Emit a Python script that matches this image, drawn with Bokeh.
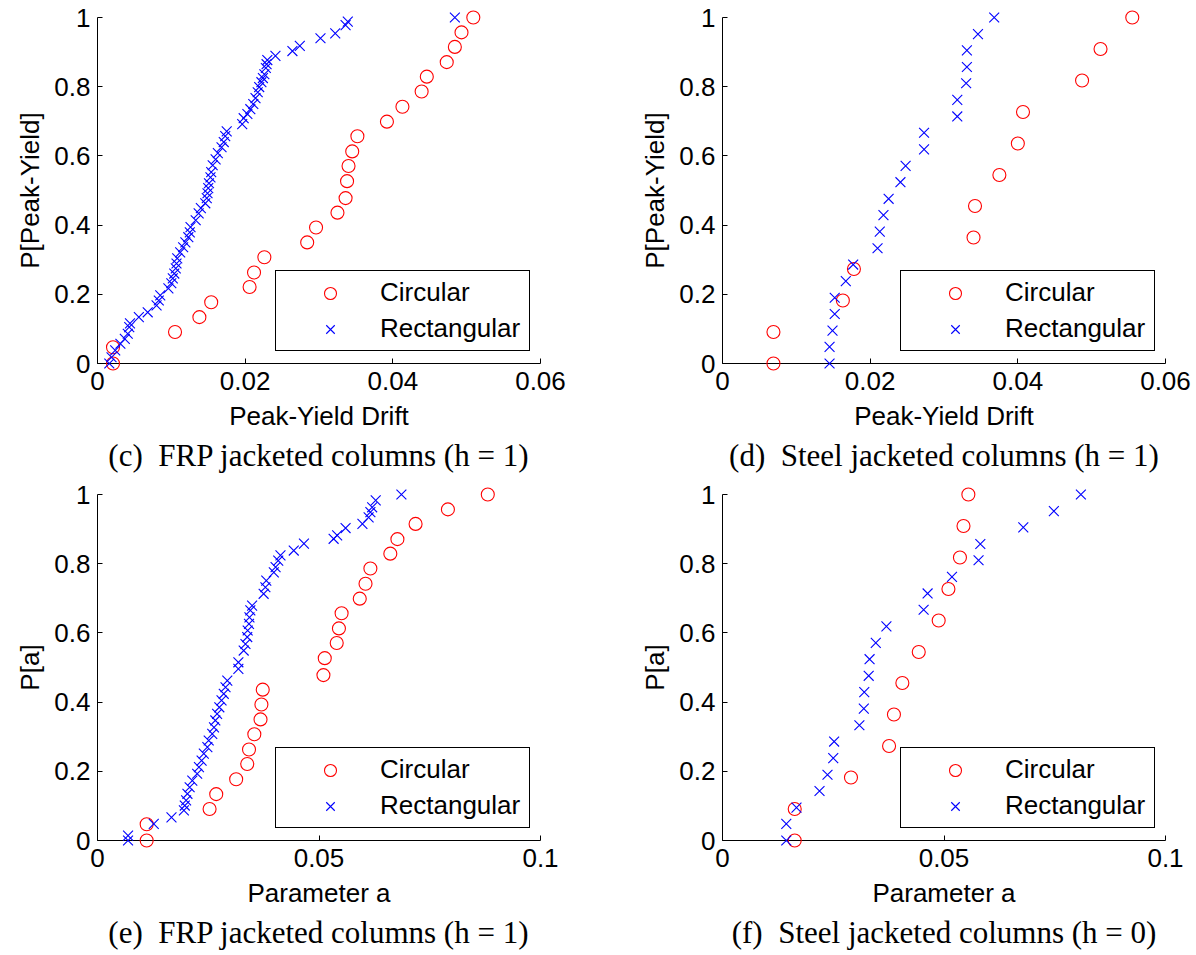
from bokeh.plotting import figure
from bokeh.layouts import column, row
from bokeh.models import (Legend, LegendItem, FixedTicker, CustomJSTickFormatter,
                          Title, Range1d)
from bokeh.embed import file_html
from bokeh.resources import INLINE

# ---------------- data ----------------
# (c) FRP jacketed columns, Peak-Yield Drift
c_circ_x = [0.0021, 0.0021, 0.0105, 0.0138, 0.0154, 0.0206, 0.0212, 0.0226, 0.0284, 0.0296,
            0.0325, 0.0336, 0.0338, 0.0340, 0.0345, 0.0352, 0.0392, 0.0413, 0.0439, 0.0446,
            0.0473, 0.0484, 0.0493, 0.0509]
c_circ_y = [0.0, 0.047, 0.091, 0.134, 0.177, 0.221, 0.263, 0.307, 0.350, 0.393,
            0.436, 0.478, 0.527, 0.571, 0.613, 0.657, 0.699, 0.742, 0.786, 0.829,
            0.871, 0.915, 0.957, 1.0]
c_rect_x = [0.0016, 0.0019, 0.0024, 0.0031, 0.0037, 0.0041, 0.0043, 0.0044, 0.0056, 0.0068,
            0.0080, 0.0083, 0.0085, 0.0096, 0.0100, 0.0102, 0.0104, 0.0106, 0.0107, 0.0108,
            0.0112, 0.0116, 0.0119, 0.0123, 0.0125, 0.0126, 0.0133, 0.0137, 0.0140, 0.0146,
            0.0148, 0.0149, 0.0150, 0.0151, 0.0153, 0.0154, 0.0156, 0.0160, 0.0163, 0.0168,
            0.0171, 0.0173, 0.0175, 0.0196, 0.0198, 0.0203, 0.0207, 0.0211, 0.0214, 0.0217,
            0.0219, 0.0222, 0.0224, 0.0226, 0.0228, 0.0229, 0.0230, 0.0241, 0.0264, 0.0274,
            0.0302, 0.0322, 0.0336, 0.0339, 0.0484]
c_rect_y = [0.0, 0.018, 0.038, 0.057, 0.071, 0.086, 0.105, 0.116, 0.134, 0.148,
            0.168, 0.182, 0.197, 0.217, 0.232, 0.246, 0.260, 0.275, 0.289, 0.304,
            0.321, 0.336, 0.350, 0.365, 0.379, 0.394, 0.414, 0.434, 0.449, 0.463,
            0.478, 0.492, 0.507, 0.521, 0.538, 0.553, 0.573, 0.590, 0.608, 0.625,
            0.640, 0.657, 0.671, 0.692, 0.709, 0.721, 0.735, 0.750, 0.767, 0.784,
            0.799, 0.813, 0.825, 0.836, 0.854, 0.865, 0.877, 0.889, 0.903, 0.918,
            0.940, 0.954, 0.978, 0.988, 1.0]

# (d) Steel jacketed columns, Peak-Yield Drift
d_circ_x = [0.0069, 0.0069, 0.0163, 0.0178, 0.0340, 0.0342, 0.0375, 0.0400, 0.0407, 0.0487,
            0.0512, 0.0555]
d_circ_y = [0.0, 0.091, 0.182, 0.273, 0.364, 0.455, 0.545, 0.636, 0.727, 0.818, 0.909, 1.0]
d_rect_x = [0.0145, 0.0145, 0.0149, 0.0152, 0.0152, 0.0167, 0.0177, 0.0210, 0.0213, 0.0218,
            0.0225, 0.0241, 0.0248, 0.0273, 0.0273, 0.0318, 0.0318, 0.0330, 0.0331, 0.0331,
            0.0346, 0.0368]
d_rect_y = [0.0, 0.048, 0.095, 0.143, 0.190, 0.238, 0.286, 0.333, 0.381, 0.429,
            0.476, 0.524, 0.571, 0.619, 0.667, 0.714, 0.762, 0.810, 0.857, 0.905,
            0.952, 1.0]

# (e) FRP jacketed columns, Parameter a
e_circ_x = [0.0111, 0.0111, 0.0253, 0.0268, 0.0313, 0.0338, 0.0342, 0.0354, 0.0368, 0.0370,
            0.0373, 0.0510, 0.0513, 0.0540, 0.0545, 0.0551, 0.0592, 0.0605, 0.0616, 0.0661,
            0.0677, 0.0718, 0.0791, 0.0881]
e_circ_y = c_circ_y
e_rect_x = [0.0069, 0.0069, 0.0127, 0.0167, 0.0195, 0.0197, 0.0200, 0.0203, 0.0208, 0.0214,
            0.0225, 0.0229, 0.0235, 0.0240, 0.0248, 0.0251, 0.0259, 0.0263, 0.0266, 0.0270,
            0.0275, 0.0280, 0.0285, 0.0289, 0.0293, 0.0318, 0.0318, 0.0330, 0.0334, 0.0338,
            0.0339, 0.0342, 0.0343, 0.0345, 0.0349, 0.0375, 0.0379, 0.0381, 0.0398, 0.0402,
            0.0408, 0.0413, 0.0443, 0.0466, 0.0533, 0.0541, 0.0560, 0.0598, 0.0612, 0.0616,
            0.0620, 0.0628, 0.0686]
e_rect_y = [0.0, 0.014, 0.048, 0.067, 0.087, 0.101, 0.116, 0.135, 0.154, 0.173,
            0.193, 0.212, 0.231, 0.251, 0.270, 0.289, 0.308, 0.327, 0.347, 0.366,
            0.385, 0.405, 0.424, 0.443, 0.462, 0.496, 0.515, 0.549, 0.568, 0.588,
            0.607, 0.626, 0.645, 0.665, 0.679, 0.713, 0.732, 0.751, 0.775, 0.790,
            0.809, 0.824, 0.838, 0.858, 0.872, 0.882, 0.903, 0.915, 0.934, 0.949,
            0.963, 0.983, 1.0]

# (f) Steel jacketed columns, Parameter a
f_circ_x = [0.0163, 0.0163, 0.0290, 0.0376, 0.0387, 0.0406, 0.0443, 0.0488, 0.0510, 0.0536,
            0.0544, 0.0555]
f_circ_y = d_circ_y
f_rect_x = [0.0144, 0.0144, 0.0167, 0.0219, 0.0237, 0.0250, 0.0252, 0.0309, 0.0319, 0.0320,
            0.0330, 0.0332, 0.0346, 0.0370, 0.0454, 0.0463, 0.0518, 0.0578, 0.0582, 0.0679,
            0.0748, 0.0809]
f_rect_y = d_rect_y

ticks_drift = [0, 0.02, 0.04, 0.06]
ticks_param = [0, 0.05, 0.1]
ticks_prob = [0, 0.2, 0.4, 0.6, 0.8, 1]

SANS = "Liberation Sans"
SERIF = "Liberation Serif"
FS = "26px"
NB = "\u00a0"

fmt = CustomJSTickFormatter(code="""
if (Math.abs(tick) < 1e-12) { return "0"; }
return String(parseFloat(tick.toFixed(4)));
""")


def panel(cx, cy, rx, ry, xmax, xticks, xlabel, ylabel, caption, width, height,
          right_border, bottom_border):
    p = figure(width=width, height=height, output_backend="svg", toolbar_location=None,
               x_range=Range1d(0, xmax), y_range=Range1d(0, 1),
               min_border=0, min_border_left=97, min_border_top=17,
               min_border_right=right_border, min_border_bottom=bottom_border)
    p.outline_line_color = None
    p.grid.visible = False
    p.background_fill_color = "white"
    p.border_fill_color = "white"

    for ax in (p.xaxis[0], p.yaxis[0]):
        ax.axis_line_color = "black"
        ax.axis_line_width = 1
        ax.major_tick_in = 5
        ax.major_tick_out = 0
        ax.minor_tick_line_color = None
        ax.major_tick_line_color = "black"
        ax.major_label_text_font = SANS
        ax.major_label_text_font_size = FS
        ax.major_label_text_color = "black"
        ax.axis_label_text_font = SANS
        ax.axis_label_text_font_size = FS
        ax.axis_label_text_font_style = "normal"
        ax.axis_label_text_color = "black"
        ax.formatter = fmt
    p.xaxis.ticker = FixedTicker(ticks=xticks)
    p.yaxis.ticker = FixedTicker(ticks=ticks_prob)
    p.xaxis.axis_label = xlabel
    p.yaxis.axis_label = ylabel
    p.xaxis.major_label_standoff = 8
    p.yaxis.major_label_standoff = 7
    p.xaxis.axis_label_standoff = 8
    p.yaxis.axis_label_standoff = 6

    r1 = p.scatter(cx, cy, marker="circle", size=13, fill_color=None,
                   line_color="#FF0000", line_width=1.1, level="overlay")
    r2 = p.scatter(rx, ry, marker="x", size=14, line_color="#0000FF",
                   line_width=1.1, level="overlay")

    leg = Legend(items=[LegendItem(label="Circular", renderers=[r1]),
                        LegendItem(label="Rectangular", renderers=[r2])],
                 location=(178, 12), margin=0, padding=6, spacing=5,
                 glyph_width=96, glyph_height=30, label_height=30, label_width=143,
                 label_standoff=2, label_text_font=SANS, label_text_font_size=FS,
                 label_text_color="black",
                 border_line_color="black", border_line_width=1.3, border_line_alpha=1.0,
                 background_fill_color="white", background_fill_alpha=1.0)
    p.add_layout(leg)

    cap = Title(text=caption, align="center", text_font=SERIF, text_font_size="31px",
                text_font_style="normal", text_color="black", standoff=4)
    p.add_layout(cap, "below")
    return p


p_c = panel(c_circ_x, c_circ_y, c_rect_x, c_rect_y, 0.06, ticks_drift,
            "Peak-Yield Drift", "P[Peak-Yield]", "(c)" + NB + NB + "FRP jacketed columns (h = 1)",
            625, 477, 85, 114)
p_d = panel(d_circ_x, d_circ_y, d_rect_x, d_rect_y, 0.06, ticks_drift,
            "Peak-Yield Drift", "P[Peak-Yield]", "(d)" + NB + NB + "Steel jacketed columns (h = 1)",
            571, 477, 31, 114)
p_e = panel(e_circ_x, e_circ_y, e_rect_x, e_rect_y, 0.1, ticks_param,
            "Parameter a", "P[a]", "(e)" + NB + NB + "FRP jacketed columns (h = 1)",
            625, 478, 85, 115)
p_f = panel(f_circ_x, f_circ_y, f_rect_x, f_rect_y, 0.1, ticks_param,
            "Parameter a", "P[a]", "(f)" + NB + NB + "Steel jacketed columns (h = 0)",
            571, 478, 31, 115)

layout = column(row(p_c, p_d, spacing=0), row(p_e, p_f, spacing=0), spacing=0)

open("out.html", "w").write(file_html(layout, INLINE))
